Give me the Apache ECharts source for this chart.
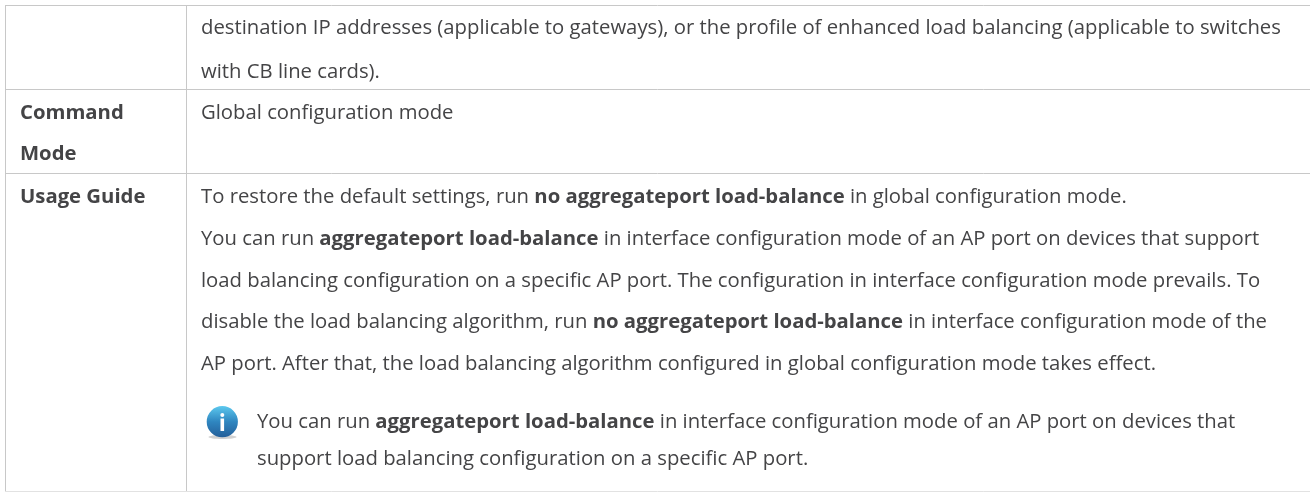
<!DOCTYPE html>
<html>
<head>
<meta charset="utf-8">
<style>html,body{margin:0;padding:0;background:#fff}#main{width:1310px;height:492px}</style>
<script src="https://cdn.jsdelivr.net/npm/echarts@6/dist/echarts.min.js"></script>
</head>
<body>
<div id="main"></div>
<script>
// row headings, a second line where the cell wraps
var headings = [['Command', 'Mode'], ['Usage Guide']];
// *...* marks the bold runs
var continuedLines = [
  'destination IP addresses (applicable to gateways), or the profile of enhanced load balancing (applicable to switches',
  'with CB line cards).'
];
var modeLines = ['Global configuration mode'];
var usageLines = [
  'To restore the default settings, run *no aggregateport load-balance* in global configuration mode.',
  'You can run *aggregateport load-balance* in interface configuration mode of an AP port on devices that support',
  'load balancing configuration on a specific AP port. The configuration in interface configuration mode prevails. To',
  'disable the load balancing algorithm, run *no aggregateport load-balance* in interface configuration mode of the',
  'AP port. After that, the load balancing algorithm configured in global configuration mode takes effect.'
];
var noteLines = [
  'You can run *aggregateport load-balance* in interface configuration mode of an AP port on devices that',
  'support load balancing configuration on a specific AP port.'
];

var FONT = 'Open Sans';
var SIZE = 20.3;
var INK = '#444446';
var RULE = '#c8c8c8';

function richText(s) {
  return s.split('*').map(function (part, i) {
    return part === '' ? '' : (i % 2 ? '{b|' + part + '}' : '{n|' + part + '}');
  }).join('');
}
function textEl(s, x, y) {
  return {
    type: 'text', x: x, y: y, silent: true,
    style: {
      text: richText(s), verticalAlign: 'middle', fill: INK,
      rich: {
        n: {fontFamily: FONT, fontSize: SIZE, fill: INK},
        b: {fontFamily: FONT, fontSize: SIZE, fontWeight: 'bold', fill: INK}
      }
    }
  };
}
function boldEl(s, x, y) { return textEl('*' + s + '*', x, y); }
function rule(x1, y1, x2, y2, c) {
  return {type: 'line', silent: true, shape: {x1: x1, y1: y1, x2: x2, y2: y2}, style: {stroke: c || RULE, lineWidth: 1}};
}

var els = [];
// horizontal and vertical table rules
els.push(rule(5, 5.5, 1310, 5.5));
els.push(rule(5, 89.5, 1310, 89.5));
els.push(rule(5, 173.5, 1310, 173.5));
els.push(rule(5, 491.5, 1310, 491.5, '#e2e2e2'));
els.push(rule(5.5, 5, 5.5, 491));
els.push(rule(186.5, 5, 186.5, 491));

var contY = [28, 72];
continuedLines.forEach(function (s, i) { els.push(textEl(s, 201, contY[i])); });
els.push(boldEl(headings[0][0], 20, 113));
els.push(boldEl(headings[0][1], 20, 154));
els.push(textEl(modeLines[0], 201, 113));
els.push(boldEl(headings[1][0], 20, 197));
var usageY = [197, 239, 281, 322, 364];
usageLines.forEach(function (s, i) { els.push(textEl(s, 201, usageY[i])); });
var noteY = [422, 459];
noteLines.forEach(function (s, i) { els.push(textEl(s, 257, noteY[i])); });

// note icon
els.push({type: 'ellipse', silent: true, shape: {cx: 222.5, cy: 437, rx: 14, ry: 2}, style: {fill: 'rgba(0,0,0,0.18)'}});
els.push({type: 'circle', silent: true, shape: {cx: 222.3, cy: 421.7, r: 15.6}, style: {
  fill: new echarts.graphic.LinearGradient(0, 0, 0, 1, [{offset: 0, color: '#5cc8ee'}, {offset: 0.5, color: '#2f86c0'}, {offset: 1, color: '#245f9a'}])
}});
els.push({type: 'circle', silent: true, shape: {cx: 222.3, cy: 415, r: 2}, style: {fill: '#fff'}});
els.push({type: 'rect', silent: true, shape: {x: 220.5, y: 418.5, width: 3.6, height: 12.5}, style: {fill: '#fff'}});

echarts.init(document.getElementById('main'), null, {renderer: 'canvas'}).setOption({
  animation: false,
  backgroundColor: '#fff',
  graphic: {elements: els}
});
</script>
</body>
</html>
